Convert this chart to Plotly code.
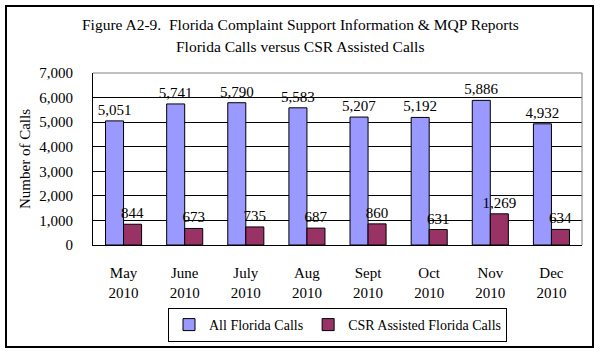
import plotly.graph_objects as go

months = ["May<br>2010", "June<br>2010", "July<br>2010", "Aug<br>2010",
          "Sept<br>2010", "Oct<br>2010", "Nov<br>2010", "Dec<br>2010"]
all_calls = [5051, 5741, 5790, 5583, 5207, 5192, 5886, 4932]
csr_calls = [844, 673, 735, 687, 860, 631, 1269, 634]
y_ticks = [0, 1000, 2000, 3000, 4000, 5000, 6000, 7000]
y_labels = [f"{v:,}" for v in y_ticks]

FONT = "Liberation Serif"
FS = 15
W, H = 600, 354
L, R, T, B = 93, 18, 73, 109
pw, ph = W - L - R, H - T - B

def px(x):
    return (x - L) / pw

def py(y):
    return (H - B - y) / ph

fig = go.Figure()
fig.add_trace(go.Bar(
    x=months, y=all_calls, name="All Florida Calls",
    marker=dict(color="#9999FF", line=dict(color="black", width=1)),
    text=[f"{v:,}" for v in all_calls], textposition="outside", constraintext="none",
    textfont=dict(family=FONT, size=FS, color="black"), cliponaxis=False,
))
fig.add_trace(go.Bar(
    x=months, y=csr_calls, name="CSR Assisted Florida Calls",
    marker=dict(color="#993366", line=dict(color="black", width=1)),
    text=[f"{v:,}" for v in csr_calls], textposition="outside", constraintext="none",
    textfont=dict(family=FONT, size=FS, color="black"), cliponaxis=False,
))

fig.update_layout(
    width=W, height=H,
    margin=dict(l=L, r=R, t=T, b=B),
    paper_bgcolor="white", plot_bgcolor="white",
    font=dict(family=FONT, size=FS, color="black"),
    barmode="group", bargap=0.41, bargroupgap=0,
    showlegend=True,
    legend=dict(orientation="h", x=0.5, xanchor="center", y=py(342), yanchor="bottom",
                bordercolor="black", borderwidth=1, bgcolor="white",
                font=dict(family=FONT, size=14), itemwidth=30,
                tracegroupgap=0),
    xaxis=dict(showgrid=False, showline=True, linecolor="black", linewidth=1,
               ticks="", tickfont=dict(family=FONT, size=FS),
               ticklabelstandoff=14),
    yaxis=dict(range=[0, 7000], tickvals=y_ticks, ticktext=y_labels,
               showgrid=True, gridcolor="black", gridwidth=1,
               showline=True, linecolor="black", linewidth=1,
               zeroline=False, ticks="",
               tickfont=dict(family=FONT, size=FS), ticklabelstandoff=16),
    annotations=[
        dict(text="Figure A2-9.  Florida Complaint Support Information &amp; MQP Reports",
             xref="paper", yref="paper", x=px(300), y=py(25), xanchor="center",
             yanchor="middle", showarrow=False, font=dict(family=FONT, size=15.5)),
        dict(text="Florida Calls versus CSR Assisted Calls",
             xref="paper", yref="paper", x=px(300), y=py(47), xanchor="center",
             yanchor="middle", showarrow=False, font=dict(family=FONT, size=15.5)),
        dict(text="Number of Calls", textangle=-90,
             xref="paper", yref="paper", x=px(25), y=0.5, xanchor="center",
             yanchor="middle", showarrow=False, font=dict(family=FONT, size=FS)),
    ],
    shapes=[
        dict(type="line", xref="paper", yref="paper", x0=0, x1=1, y0=1, y1=1,
             line=dict(color="#808080", width=1)),
        dict(type="line", xref="paper", yref="paper", x0=1, x1=1, y0=0, y1=1,
             line=dict(color="#808080", width=1)),
        dict(type="rect", xref="paper", yref="paper",
             x0=px(6), x1=px(593), y0=py(347), y1=py(6),
             line=dict(color="black", width=2)),
    ],
)

fig.write_html("out.html")
